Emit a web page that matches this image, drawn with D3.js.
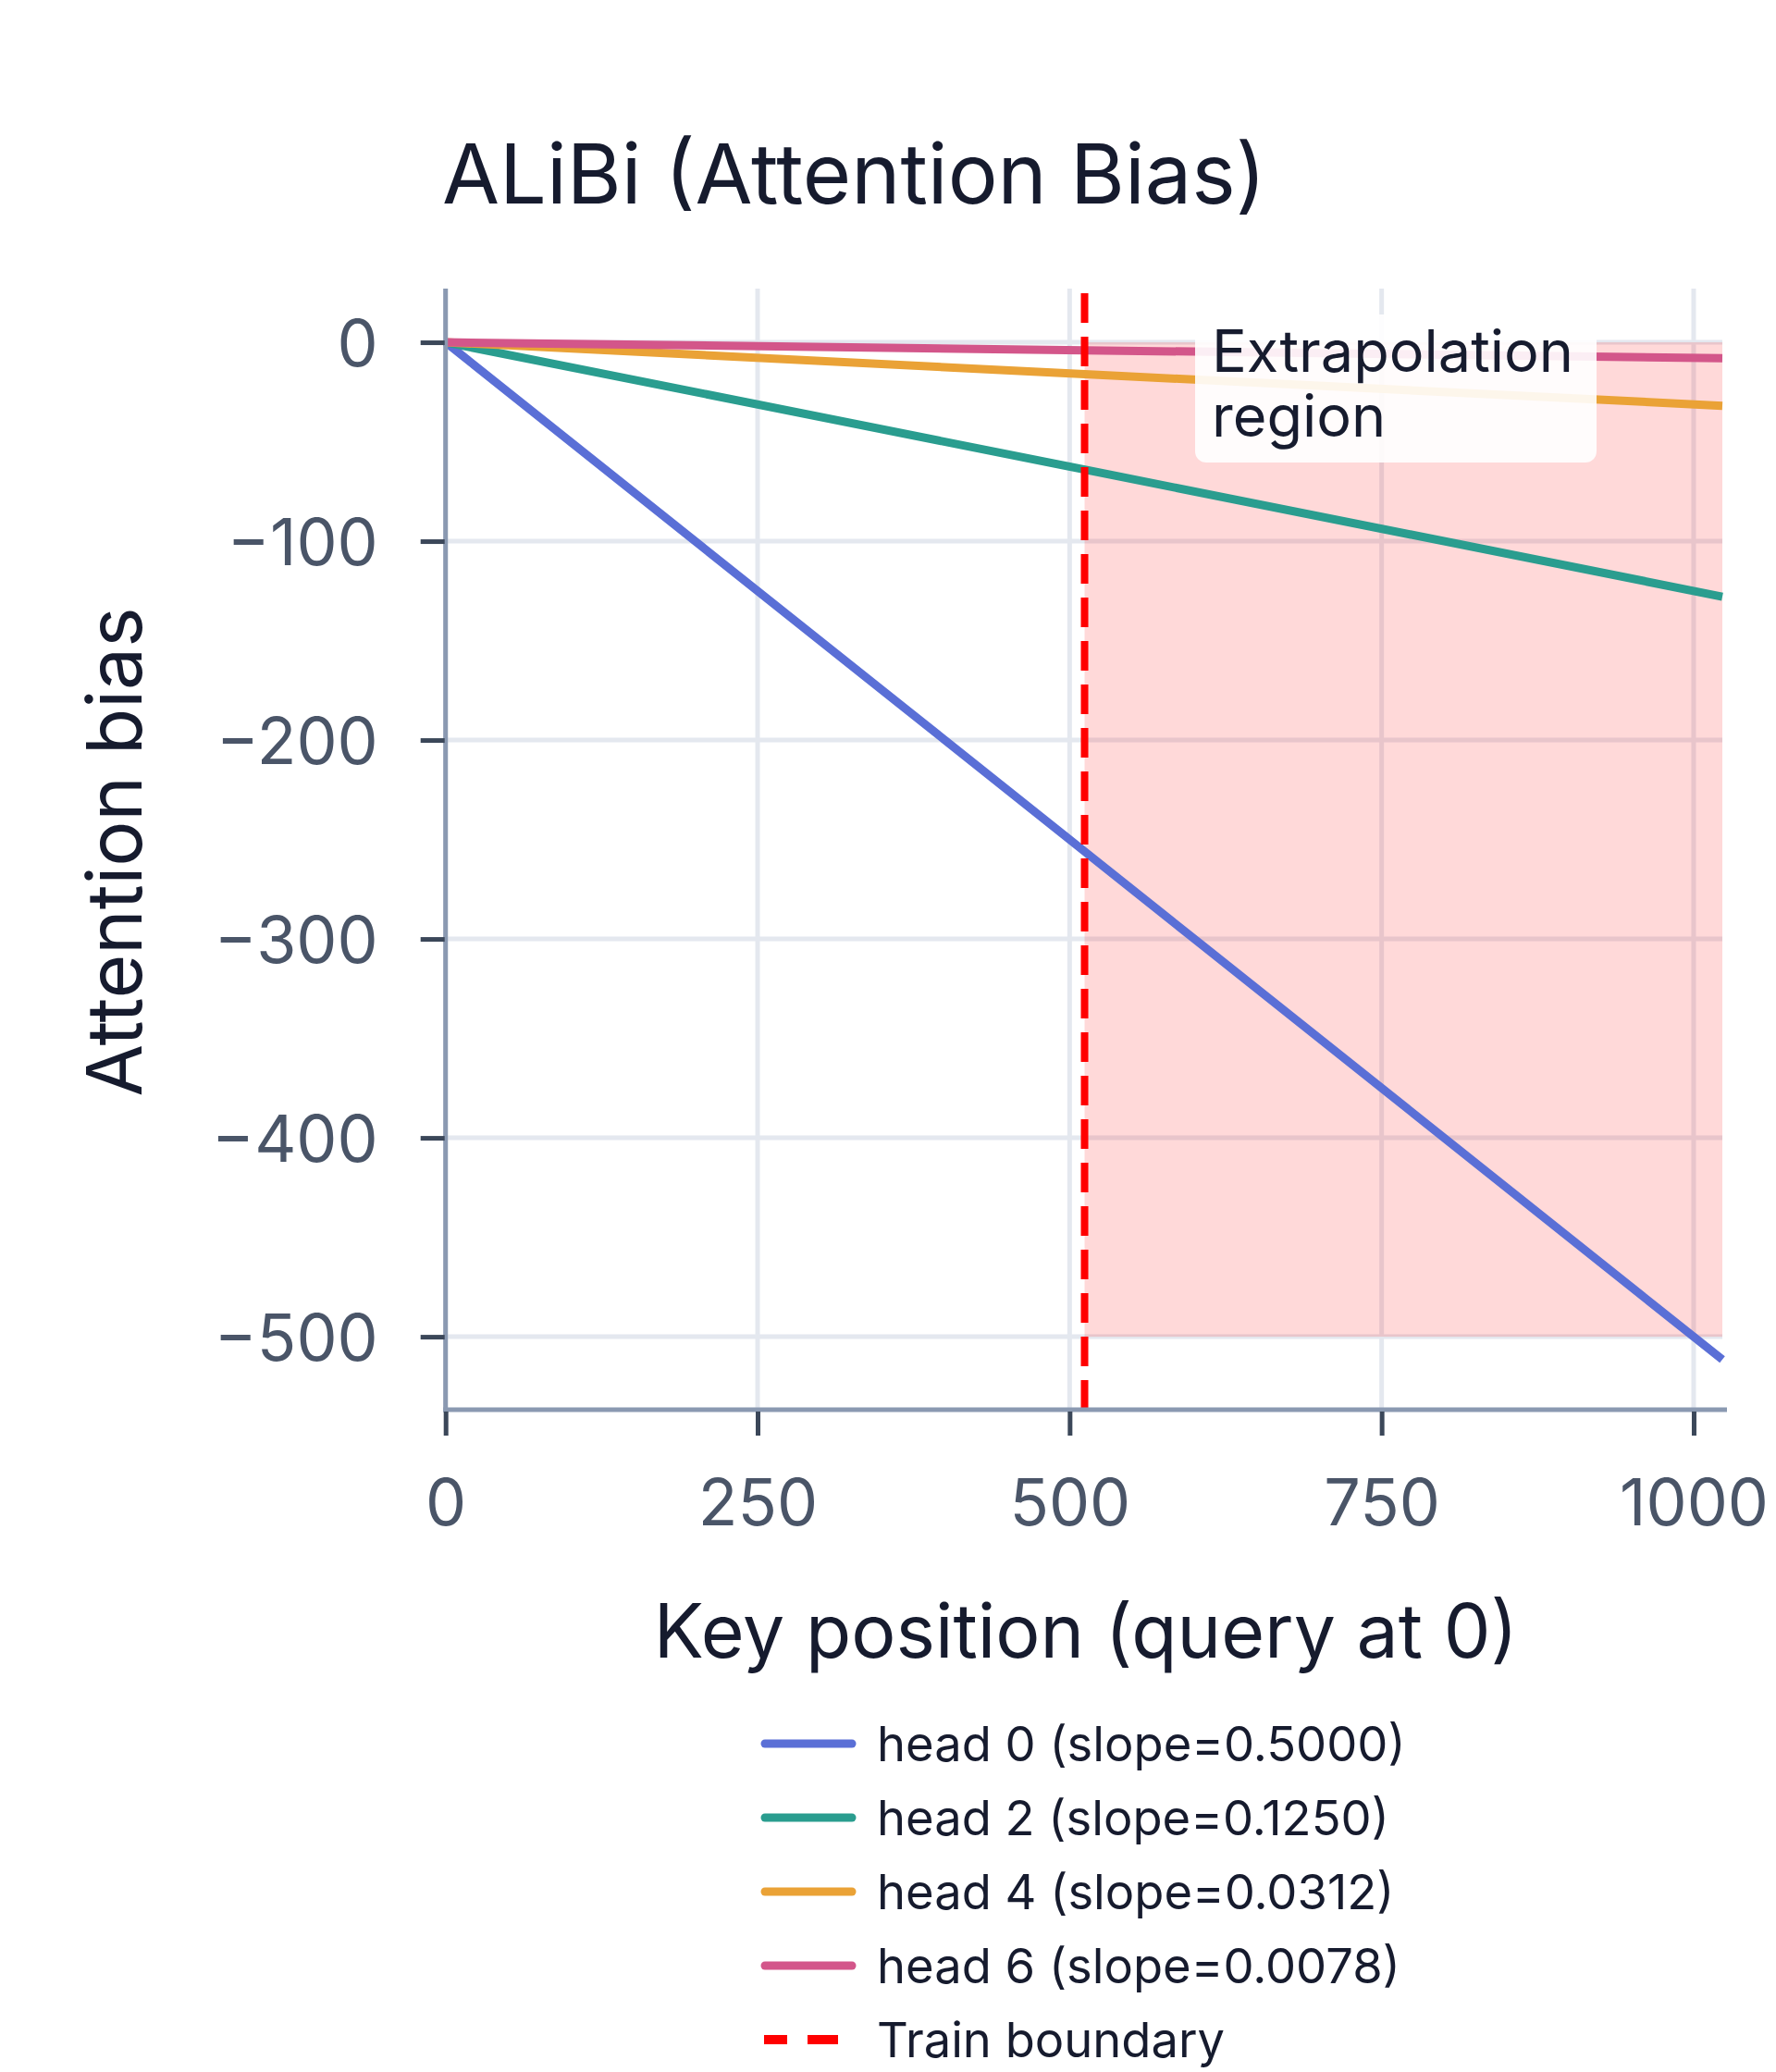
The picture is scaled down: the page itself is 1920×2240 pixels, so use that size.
<!DOCTYPE html>
<html>
<head>
<meta charset="utf-8">
<script src="https://cdn.jsdelivr.net/npm/d3@7"></script>
<style>
  html, body { margin: 0; padding: 0; background: #ffffff; }
  svg { display: block; font-family: Inter, "Noto Sans", sans-serif; }
</style>
</head>
<body>
<svg id="chart" width="1920" height="2240"></svg>
<script>
// ---- data ----
const keyPositions = [0, 512, 1023];
const head0Bias = [0, -256.0, -511.5];
const head2Bias = [0, -64.0, -127.9];
const head4Bias = [0, -16.0, -31.9];
const head6Bias = [0, -4.0, -8.0];
const seriesNames = ["head 0 (slope=0.5000)", "head 2 (slope=0.1250)", "head 4 (slope=0.0312)", "head 6 (slope=0.0078)"];
const seriesColors = ["#5a6fd6", "#2a9d8f", "#eaa236", "#d3568a"];
const trainBoundary = 512;
const extrapRegionX = [512, 1023];
const extrapRegionY = [-500, 0];
const xTicks = [0, 250, 500, 750, 1000];
const yTicks = [0, -100, -200, -300, -400, -500];
const xDomain = [0, 1023];
const yDomain = [-536.7, 27];

const allSeries = [head0Bias, head2Bias, head4Bias, head6Bias];

// ---- layout ----
const plot = { left: 481.7, right: 1862, top: 312, bottom: 1524 };
const svg = d3.select("#chart");
const x = d3.scaleLinear().domain(xDomain).range([plot.left, plot.right]);
const y = d3.scaleLinear().domain(yDomain).range([plot.bottom, plot.top]);

const gridColor = "#e4e8ef";
const axisLineColor = "#8a99b1";
const tickColor = "#3b4759";
const tickLabelColor = "#4a5568";
const titleColor = "#161b2e";
const fmt = v => (v < 0 ? "\u2212" + Math.abs(v) : String(v));

svg.append("rect").attr("width", 1920).attr("height", 2240).attr("fill", "#fff");

// gridlines
const grid = svg.append("g");
grid.selectAll("line.gx").data(xTicks).join("line")
  .attr("x1", d => x(d)).attr("x2", d => x(d))
  .attr("y1", plot.top).attr("y2", plot.bottom)
  .attr("stroke", gridColor).attr("stroke-width", 5);
grid.selectAll("line.gy").data(yTicks).join("line")
  .attr("x1", plot.left).attr("x2", plot.right)
  .attr("y1", d => y(d)).attr("y2", d => y(d))
  .attr("stroke", gridColor).attr("stroke-width", 5);

// extrapolation region
svg.append("rect")
  .attr("x", x(extrapRegionX[0])).attr("width", x(extrapRegionX[1]) - x(extrapRegionX[0]))
  .attr("y", y(extrapRegionY[1])).attr("height", y(extrapRegionY[0]) - y(extrapRegionY[1]))
  .attr("fill", "rgba(255,0,0,0.15)");

// traces
const line = d3.line().x((d, i) => x(keyPositions[i])).y(d => y(d));
svg.append("g").selectAll("path").data(allSeries).join("path")
  .attr("d", d => line(d))
  .attr("fill", "none")
  .attr("stroke", (d, i) => seriesColors[i])
  .attr("stroke-width", 9)
  .attr("stroke-linejoin", "round");

// train boundary
svg.append("line")
  .attr("x1", x(trainBoundary)).attr("x2", x(trainBoundary))
  .attr("y1", plot.bottom).attr("y2", plot.top)
  .attr("stroke", "#ff0000").attr("stroke-width", 8)
  .attr("stroke-dasharray", "32,15");

// annotation
const ann = svg.append("g");
ann.append("rect")
  .attr("x", 1292).attr("y", 340).attr("width", 434).attr("height", 160)
  .attr("rx", 12).attr("ry", 12)
  .attr("fill", "rgba(255,255,255,0.9)");
ann.append("text").attr("x", 1310).attr("y", 402)
  .attr("font-size", 63).attr("fill", titleColor).text("Extrapolation");
ann.append("text").attr("x", 1310).attr("y", 472)
  .attr("font-size", 63).attr("fill", titleColor).text("region");

// axis lines
svg.append("line").attr("x1", plot.left).attr("x2", plot.left)
  .attr("y1", plot.top).attr("y2", plot.bottom + 2.5)
  .attr("stroke", axisLineColor).attr("stroke-width", 5);
svg.append("line").attr("x1", plot.left - 2.5).attr("x2", 1867)
  .attr("y1", plot.bottom).attr("y2", plot.bottom)
  .attr("stroke", axisLineColor).attr("stroke-width", 5);

// axes via d3
const xAxis = d3.axisBottom(x).tickValues(xTicks).tickSize(26).tickPadding(72).tickFormat(fmt);
const gx = svg.append("g").attr("transform", `translate(0,${plot.bottom + 2})`).call(xAxis);
gx.select(".domain").remove();
gx.selectAll(".tick line").attr("stroke", tickColor).attr("stroke-width", 5);
gx.selectAll(".tick text").attr("fill", tickLabelColor).attr("font-size", 70)
  .attr("font-family", "Inter").attr("dy", "0.71em").attr("y", 73);

const yAxis = d3.axisLeft(y).tickValues(yTicks).tickSize(26).tickPadding(46).tickFormat(fmt);
const gy = svg.append("g").attr("transform", `translate(${plot.left - 1},0)`).call(yAxis);
gy.select(".domain").remove();
gy.selectAll(".tick line").attr("stroke", tickColor).attr("stroke-width", 5);
gy.selectAll(".tick text").attr("fill", tickLabelColor).attr("font-size", 70)
  .attr("font-family", "Inter").attr("dy", "0.36em");

// titles
svg.append("text").attr("x", 478).attr("y", 220)
  .attr("font-size", 90).attr("fill", titleColor).text("ALiBi (Attention Bias)");
svg.append("text").attr("x", (plot.left + plot.right) / 2 + 2).attr("y", 1792)
  .attr("text-anchor", "middle").attr("font-size", 80.5).attr("fill", titleColor)
  .text("Key position (query at 0)");
svg.append("text")
  .attr("transform", `translate(153,921) rotate(-90)`)
  .attr("text-anchor", "middle").attr("font-size", 82).attr("fill", titleColor)
  .text("Attention bias");

// legend
const legendY0 = 1885, legendStep = 80;
const lg = svg.append("g");
const legendItems = seriesNames.map((n, i) => ({ name: n, color: seriesColors[i], dash: null }))
  .concat([{ name: "Train boundary", color: "#ff0000", dash: "25,22,33,100" }]);
const li = lg.selectAll("g").data(legendItems).join("g")
  .attr("transform", (d, i) => `translate(0,${legendY0 + i * legendStep})`);
li.append("line")
  .attr("x1", d => d.dash ? 826 : 827).attr("x2", d => d.dash ? 906 : 921)
  .attr("stroke", d => d.color).attr("stroke-width", d => d.dash ? 10 : 9)
  .attr("stroke-linecap", d => d.dash ? "butt" : "round")
  .attr("stroke-dasharray", d => d.dash);
li.append("text").attr("x", 948).attr("dy", "0.36em")
  .attr("font-size", 52.5).attr("fill", titleColor).text(d => d.name);
</script>
</body>
</html>
